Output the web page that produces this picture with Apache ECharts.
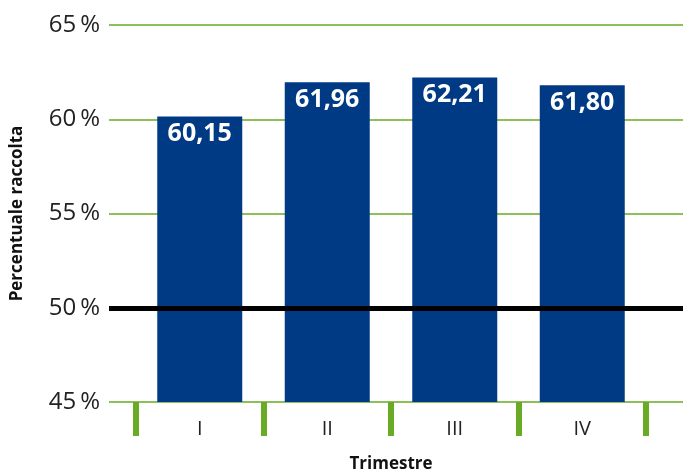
<!DOCTYPE html>
<html>
<head>
<meta charset="utf-8">
<script src="https://cdn.jsdelivr.net/npm/echarts@6/dist/echarts.min.js"></script>
<style>
  html, body { margin: 0; padding: 0; background: #fff; }
  #chart { width: 683px; height: 474px; }
</style>
</head>
<body>
<div id="chart"></div>
<script>
// Data
const trimestri = ['I', 'II', 'III', 'IV'];
const raccolta = [60.15, 61.96, 62.21, 61.80];
const soglia = 50;
const yTicks = [45, 50, 55, 60, 65];

const green = '#8dc05a';
const tickGreen = '#6aab26';
const barBlue = '#003a84';
const font = 'Open Sans';

const chart = echarts.init(document.getElementById('chart'));

const option = {
  animation: false,
  textStyle: { fontFamily: font },
  grid: [
    // wide grid: gridlines + y labels
    { left: 109, right: 0, top: 25, bottom: 72, outerBoundsMode: 'none', containLabel: false },
    // bars grid
    { left: 136, right: 37, top: 25, bottom: 72, outerBoundsMode: 'none', containLabel: false }
  ],
  xAxis: [
    { gridIndex: 0, type: 'value', min: 0, max: 1, show: false },
    {
      gridIndex: 1,
      type: 'category',
      data: trimestri,
      axisLine: { show: false },
      axisTick: { show: true, length: 34, lineStyle: { color: tickGreen, width: 6 } },
      axisLabel: { color: '#222', fontSize: 20, margin: 17, fontFamily: font },
      name: 'Trimestre',
      nameLocation: 'middle',
      nameGap: 54,
      nameTextStyle: { fontSize: 17, fontWeight: 'bold', color: '#111', fontFamily: font }
    }
  ],
  yAxis: [
    {
      gridIndex: 0,
      type: 'value',
      min: yTicks[0],
      max: yTicks[yTicks.length - 1],
      interval: 5,
      axisLine: { show: false },
      axisTick: { show: false },
      axisLabel: {
        color: '#222', fontSize: 24, margin: 9, fontFamily: font,
        formatter: v => v + '\u2009%'
      },
      splitLine: { lineStyle: { color: green, width: 2 } },
      name: 'Percentuale raccolta',
      nameLocation: 'middle',
      nameGap: 83,
      nameTextStyle: { fontSize: 17, fontWeight: 'bold', color: '#111', fontFamily: font }
    },
    {
      gridIndex: 1,
      type: 'value',
      min: yTicks[0],
      max: yTicks[yTicks.length - 1],
      show: false,
      splitLine: { show: false }
    }
  ],
  series: [
    {
      type: 'line',
      xAxisIndex: 0,
      yAxisIndex: 0,
      data: [],
      z: 1,
      markLine: {
        symbol: 'none',
        silent: true,
        label: { show: false },
        lineStyle: { color: '#000', width: 5, type: 'solid' },
        data: [{ yAxis: soglia }]
      }
    },
    {
      type: 'bar',
      xAxisIndex: 1,
      yAxisIndex: 1,
      data: raccolta,
      barWidth: 85,
      z: 3,
      itemStyle: { color: barBlue },
      label: {
        show: true,
        position: 'insideTop',
        distance: 5,
        color: '#fff',
        fontSize: 25,
        fontWeight: 'bold',
        fontFamily: font,
        formatter: p => p.value.toFixed(2).replace('.', ',')
      }
    }
  ]
};

chart.setOption(option);
</script>
</body>
</html>
